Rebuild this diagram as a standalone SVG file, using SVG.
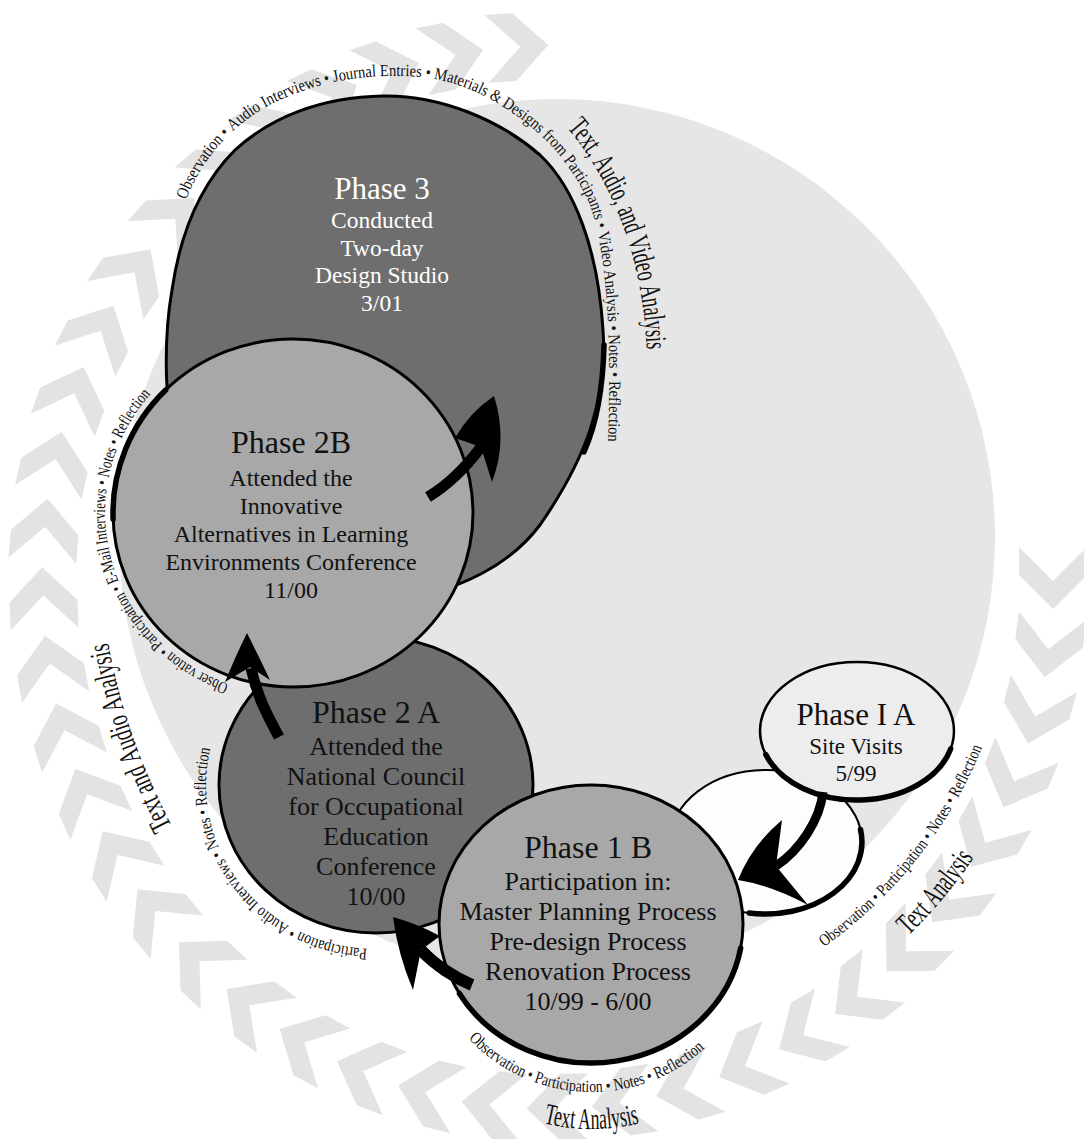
<svg xmlns="http://www.w3.org/2000/svg" xmlns:xlink="http://www.w3.org/1999/xlink" width="1084" height="1139" viewBox="0 0 1084 1139">
<style>
.chev{fill:#e3e3e3}
.node{stroke:#000;stroke-width:3}
.dark{fill:#6e6e6e}
.mid{fill:#a8a8a8}
.t{font-family:"Liberation Serif","Times New Roman",serif;text-anchor:middle;fill:#111}
.w{fill:#fff}
.ring{font-family:"Liberation Serif","Times New Roman",serif;font-size:17px;fill:#111}
.big{font-family:"Liberation Serif","Times New Roman",serif;font-size:30px;fill:#111}
.shaft{fill:none;stroke:#000;stroke-linecap:butt}
.head{fill:#000}
.brush{fill:none;stroke:#000;stroke-width:5.5;stroke-linecap:round}
</style>
<defs>
<path id="chev" d="M -30,-34 L -2,-34 L 32,0 L -2,34 L -30,34 L 4,0 Z"/>
<path id="p3ring" d="M 186,200 C 202,158 235,120 280,100 C 320,82 360,75 400,76 C 440,76 475,88 505,108 C 540,130 570,160 590,205 C 606,250 612,330 608,445"/>
<path id="p3big" d="M 567,128 C 607,174 644,252 647,356"/>
<path id="p2bring" d="M 228.7,684 A 188,182 0 0 1 153.3,391.2"/>
<path id="p2big" d="M 172,826 C 148,780 122,720 108,642"/>
<path id="p2aring" d="M 367.1,948.8 A 170,164 0 0 1 211.1,745.3"/>
<path id="p1bring" d="M 468.6,1038.6 A 168,168 0 0 0 712.4,1040.7"/>
<path id="p1bbig" d="M 504.9,1109.8 A 205,205 0 0 0 678.1,1109.8"/>
<path id="p1aring" d="M 824,947 A 455,455 0 0 0 985,740"/>
<path id="p1abig" d="M 881.4,960 A 500,500 0 0 0 993,827"/>
</defs>

<g id="background">
<g id="chevrons">
<use href="#chev" class="chev" transform="translate(1053,577) rotate(90)"/>
<use href="#chev" class="chev" transform="translate(1048.8,645.4) rotate(97.4)"/>
<use href="#chev" class="chev" transform="translate(1036.2,712.6) rotate(104.8)"/>
<use href="#chev" class="chev" transform="translate(1015.6,777.6) rotate(112.2)"/>
<use href="#chev" class="chev" transform="translate(987.1,839.3) rotate(119.6)"/>
<use href="#chev" class="chev" transform="translate(951.3,896.6) rotate(127)"/>
<use href="#chev" class="chev" transform="translate(908.8,948.5) rotate(134.4)"/>
<use href="#chev" class="chev" transform="translate(860.3,994.3) rotate(141.8)"/>
<use href="#chev" class="chev" transform="translate(806.6,1033.1) rotate(149.2)"/>
<use href="#chev" class="chev" transform="translate(748.6,1064.3) rotate(156.6)"/>
<use href="#chev" class="chev" transform="translate(687.2,1087.4) rotate(164)"/>
<use href="#chev" class="chev" transform="translate(623.5,1102) rotate(171.4)"/>
<use href="#chev" class="chev" transform="translate(558.6,1107.9) rotate(178.8)"/>
<use href="#chev" class="chev" transform="translate(493.5,1104.9) rotate(186.2)"/>
<use href="#chev" class="chev" transform="translate(429.3,1093.1) rotate(193.6)"/>
<use href="#chev" class="chev" transform="translate(367,1072.7) rotate(201)"/>
<use href="#chev" class="chev" transform="translate(307.8,1044.1) rotate(208.4)"/>
<use href="#chev" class="chev" transform="translate(252.6,1007.7) rotate(215.8)"/>
<use href="#chev" class="chev" transform="translate(202.3,964.1) rotate(223.2)"/>
<use href="#chev" class="chev" transform="translate(157.8,914) rotate(230.6)"/>
<use href="#chev" class="chev" transform="translate(119.7,858.4) rotate(238)"/>
<use href="#chev" class="chev" transform="translate(88.8,798) rotate(245.4)"/>
<use href="#chev" class="chev" transform="translate(65.6,734) rotate(252.8)"/>
<use href="#chev" class="chev" transform="translate(50.4,667.4) rotate(260.2)"/>
<use href="#chev" class="chev" transform="translate(43.4,599.2) rotate(267.6)"/>
<use href="#chev" class="chev" transform="translate(44.9,530.7) rotate(275)"/>
<use href="#chev" class="chev" transform="translate(54.8,463) rotate(282.4)"/>
<use href="#chev" class="chev" transform="translate(72.9,397.1) rotate(289.8)"/>
<use href="#chev" class="chev" transform="translate(98.8,334.3) rotate(297.2)"/>
<use href="#chev" class="chev" transform="translate(132.3,275.5) rotate(304.6)"/>
<use href="#chev" class="chev" transform="translate(172.7,221.7) rotate(312)"/>
<use href="#chev" class="chev" transform="translate(219.4,173.7) rotate(319.4)"/>
<use href="#chev" class="chev" transform="translate(271.7,132.5) rotate(326.8)"/>
<use href="#chev" class="chev" transform="translate(328.2,98.9) rotate(334.2)"/>
<use href="#chev" class="chev" transform="translate(388.6,73.1) rotate(341.6)"/>
<use href="#chev" class="chev" transform="translate(451.6,55.8) rotate(349)"/>
<use href="#chev" class="chev" transform="translate(516.3,47) rotate(356.4)"/>
</g>
<circle cx="557" cy="537" r="438" fill="#e6e6e6"/>
</g>

<g id="phase3">
<path class="node dark" d="M 383,96 C 440,95 500,120 540,155 C 575,188 598,250 603,330 C 608,400 585,460 540,525 C 510,565 460,590 400,600 C 320,610 220,560 185,470 C 160,420 165,330 172,290 C 180,235 200,185 235,150 C 270,118 320,97 383,96 Z"/>
<path class="brush" d="M 604,345 C 603,390 596,425 584,452"/>
<text class="t w" font-size="31" x="382" y="199">Phase 3</text>
<text class="t w" font-size="23.5" x="382" y="228">Conducted</text>
<text class="t w" font-size="23.5" x="382" y="255.5">Two-day</text>
<text class="t w" font-size="23.5" x="382" y="283">Design Studio</text>
<text class="t w" font-size="23.5" x="382" y="310.5">3/01</text>
</g>

<g id="phase2a">
<ellipse class="node dark" cx="376" cy="785" rx="157" ry="148" stroke-width="3.5"/>
<text class="t" font-size="32" x="376" y="723">Phase 2 A</text>
<text class="t" font-size="26" x="376" y="755">Attended the</text>
<text class="t" font-size="26" x="376" y="785">National Council</text>
<text class="t" font-size="26" x="376" y="815">for Occupational</text>
<text class="t" font-size="26" x="376" y="845">Education</text>
<text class="t" font-size="26" x="376" y="875">Conference</text>
<text class="t" font-size="26" x="376" y="905">10/00</text>
</g>

<g id="phase2b">
<ellipse class="node mid" cx="293" cy="513" rx="180" ry="174"/>
<path class="brush" d="M 165.7,390 A 180,174 0 0 0 113.1,519.1"/>
<text class="t" font-size="32" x="291" y="453">Phase 2B</text>
<text class="t" font-size="24" x="291" y="486">Attended the</text>
<text class="t" font-size="24" x="291" y="514">Innovative</text>
<text class="t" font-size="24" x="291" y="542">Alternatives in Learning</text>
<text class="t" font-size="24" x="291" y="570">Environments Conference</text>
<text class="t" font-size="24" x="291" y="598">11/00</text>
</g>

<g id="phase1a-shadow">
<ellipse cx="766" cy="842" rx="96" ry="72" fill="#fdfdfd" stroke="#000" stroke-width="2"/>
<path class="brush" stroke-width="4" d="M 860.5,829.5 A 96,72 0 0 1 749.3,912.9"/>
</g>

<g id="phase1b">
<ellipse class="node mid" cx="591" cy="924" rx="152" ry="139" stroke-width="3.5"/>
<path class="brush" stroke-width="5" d="M 740.7,948.1 A 152,139 0 0 1 459.4,993.5"/>
<text class="t" font-size="32" x="588" y="858">Phase 1 B</text>
<text class="t" font-size="26" x="588" y="890">Participation in:</text>
<text class="t" font-size="26" x="588" y="920">Master Planning Process</text>
<text class="t" font-size="26" x="588" y="950">Pre-design Process</text>
<text class="t" font-size="26" x="588" y="980">Renovation Process</text>
<text class="t" font-size="26" x="588" y="1010">10/99 - 6/00</text>
</g>

<g id="phase1a">
<ellipse cx="857" cy="731" rx="97" ry="69" fill="#ededed" stroke="#000" stroke-width="2.5"/>
<path class="brush" stroke-width="4.5" d="M 765.8,754.6 A 97,69 0 0 0 950.7,748.9"/>
<text class="t" font-size="31" x="856" y="725">Phase I A</text>
<text class="t" font-size="23" x="856" y="754">Site Visits</text>
<text class="t" font-size="23" x="856" y="781">5/99</text>
</g>

<g id="connectors">
<path class="shaft" stroke-width="11" d="M 428,497 C 448,485 466,467 481,447"/>
<path class="head" d="M 494,396 Q 508,440 492,482 L 481,447 L 455,438 Q 470,412 494,396 Z"/>
<path class="shaft" stroke-width="11" d="M 279,737 C 270,720 258,700 251,668"/>
<path class="head" d="M 247,633 Q 236,655 225,682 L 250,667 L 270,680 Q 258,655 247,633 Z"/>
<path class="shaft" stroke-width="12" d="M 472,985 C 455,978 435,965 421,950"/>
<path class="head" d="M 393,917 Q 418,924 440,936 L 421,950 L 413,990 Q 398,955 393,917 Z"/>
<path class="shaft" stroke-width="9" d="M 823,792 C 820,820 800,850 776,866"/>
<path class="head" d="M 738,880 Q 752,845 782,820 L 776,866 L 808,905 Q 770,885 738,880 Z"/>
</g>

<g id="annotations">
<g id="ring-phase3">
<text class="ring"><textPath href="#p3ring" startOffset="0" textLength="80" lengthAdjust="spacingAndGlyphs">Observation •</textPath></text>
<text class="ring"><textPath href="#p3ring" startOffset="83.6" textLength="110.3" lengthAdjust="spacingAndGlyphs">Audio Interviews •</textPath></text>
<text class="ring"><textPath href="#p3ring" startOffset="197.6" textLength="96.6" lengthAdjust="spacingAndGlyphs">Journal Entries •</textPath></text>
<text class="ring"><textPath href="#p3ring" startOffset="297.8" textLength="70" lengthAdjust="spacingAndGlyphs">Materials &amp;</textPath></text>
<text class="ring"><textPath href="#p3ring" startOffset="371.4" textLength="46.9" lengthAdjust="spacingAndGlyphs">Designs</textPath></text>
<text class="ring"><textPath href="#p3ring" startOffset="422" textLength="28.3" lengthAdjust="spacingAndGlyphs">from</textPath></text>
<text class="ring"><textPath href="#p3ring" startOffset="454" textLength="77.5" lengthAdjust="spacingAndGlyphs">Participants •</textPath></text>
<text class="ring"><textPath href="#p3ring" startOffset="535.2" textLength="99" lengthAdjust="spacingAndGlyphs">Video Analysis •</textPath></text>
<text class="ring"><textPath href="#p3ring" startOffset="637.8" textLength="42.7" lengthAdjust="spacingAndGlyphs">Notes •</textPath></text>
<text class="ring"><textPath href="#p3ring" startOffset="684.2" textLength="60.7" lengthAdjust="spacingAndGlyphs">Reflection</textPath></text>
</g>
<g id="label-phase3">
<text class="big"><textPath href="#p3big" startOffset="0" textLength="37.8" lengthAdjust="spacingAndGlyphs">Text,</textPath></text>
<text class="big"><textPath href="#p3big" startOffset="42.3" textLength="49.9" lengthAdjust="spacingAndGlyphs">Audio,</textPath></text>
<text class="big"><textPath href="#p3big" startOffset="96.8" textLength="26.2" lengthAdjust="spacingAndGlyphs">and</textPath></text>
<text class="big"><textPath href="#p3big" startOffset="127.5" textLength="44.4" lengthAdjust="spacingAndGlyphs">Video</textPath></text>
<text class="big"><textPath href="#p3big" startOffset="176.4" textLength="63.5" lengthAdjust="spacingAndGlyphs">Analysis</textPath></text>
</g>
<g id="ring-phase2b">
<text class="ring"><textPath href="#p2bring" startOffset="0" textLength="74.2" lengthAdjust="spacingAndGlyphs">Obser vation •</textPath></text>
<text class="ring"><textPath href="#p2bring" startOffset="77.4" textLength="73.8" lengthAdjust="spacingAndGlyphs">Participation •</textPath></text>
<text class="ring"><textPath href="#p2bring" startOffset="154.5" textLength="102.2" lengthAdjust="spacingAndGlyphs">E-Mail Interviews •</textPath></text>
<text class="ring"><textPath href="#p2bring" startOffset="259.9" textLength="37.9" lengthAdjust="spacingAndGlyphs">Notes •</textPath></text>
<text class="ring"><textPath href="#p2bring" startOffset="301.1" textLength="53.9" lengthAdjust="spacingAndGlyphs">Reflection</textPath></text>
</g>
<g id="label-phase2">
<text class="big"><textPath href="#p2big" startOffset="0" textLength="35.6" lengthAdjust="spacingAndGlyphs">Text</textPath></text>
<text class="big"><textPath href="#p2big" startOffset="40.5" textLength="28.1" lengthAdjust="spacingAndGlyphs">and</textPath></text>
<text class="big"><textPath href="#p2big" startOffset="73.5" textLength="48.6" lengthAdjust="spacingAndGlyphs">Audio</textPath></text>
<text class="big"><textPath href="#p2big" startOffset="126.9" textLength="68.1" lengthAdjust="spacingAndGlyphs">Analysis</textPath></text>
</g>
<g id="ring-phase2a">
<text class="ring"><textPath href="#p2aring" startOffset="0" textLength="78.4" lengthAdjust="spacingAndGlyphs">Participation •</textPath></text>
<text class="ring"><textPath href="#p2aring" startOffset="81.8" textLength="103.9" lengthAdjust="spacingAndGlyphs">Audio Interviews •</textPath></text>
<text class="ring"><textPath href="#p2aring" startOffset="189.1" textLength="40.2" lengthAdjust="spacingAndGlyphs">Notes •</textPath></text>
<text class="ring"><textPath href="#p2aring" startOffset="232.8" textLength="57.2" lengthAdjust="spacingAndGlyphs">Reflection</textPath></text>
</g>
<g id="ring-phase1b">
<text class="ring"><textPath href="#p1bring" startOffset="0" textLength="75.5" lengthAdjust="spacingAndGlyphs">Observation •</textPath></text>
<text class="ring"><textPath href="#p1bring" startOffset="78.9" textLength="78.6" lengthAdjust="spacingAndGlyphs">Participation •</textPath></text>
<text class="ring"><textPath href="#p1bring" startOffset="160.9" textLength="40.3" lengthAdjust="spacingAndGlyphs">Notes •</textPath></text>
<text class="ring"><textPath href="#p1bring" startOffset="204.7" textLength="57.3" lengthAdjust="spacingAndGlyphs">Reflection</textPath></text>
</g>
<text class="big" text-anchor="middle"><textPath href="#p1bbig" startOffset="50%" textLength="97" lengthAdjust="spacingAndGlyphs">Text Analysis</textPath></text>
<g id="ring-phase1a">
<text class="ring"><textPath href="#p1aring" startOffset="0" textLength="74.3" lengthAdjust="spacingAndGlyphs">Observation •</textPath></text>
<text class="ring"><textPath href="#p1aring" startOffset="77.7" textLength="77.4" lengthAdjust="spacingAndGlyphs">Participation •</textPath></text>
<text class="ring"><textPath href="#p1aring" startOffset="158.5" textLength="39.7" lengthAdjust="spacingAndGlyphs">Notes •</textPath></text>
<text class="ring"><textPath href="#p1aring" startOffset="201.6" textLength="56.4" lengthAdjust="spacingAndGlyphs">Reflection</textPath></text>
</g>
<g id="label-phase1a">
<text class="big"><textPath href="#p1abig" startOffset="36.3" textLength="33.5" lengthAdjust="spacingAndGlyphs">Text</textPath></text>
<text class="big"><textPath href="#p1abig" startOffset="74.4" textLength="63.9" lengthAdjust="spacingAndGlyphs">Analysis</textPath></text>
</g>
</g>
</svg>
